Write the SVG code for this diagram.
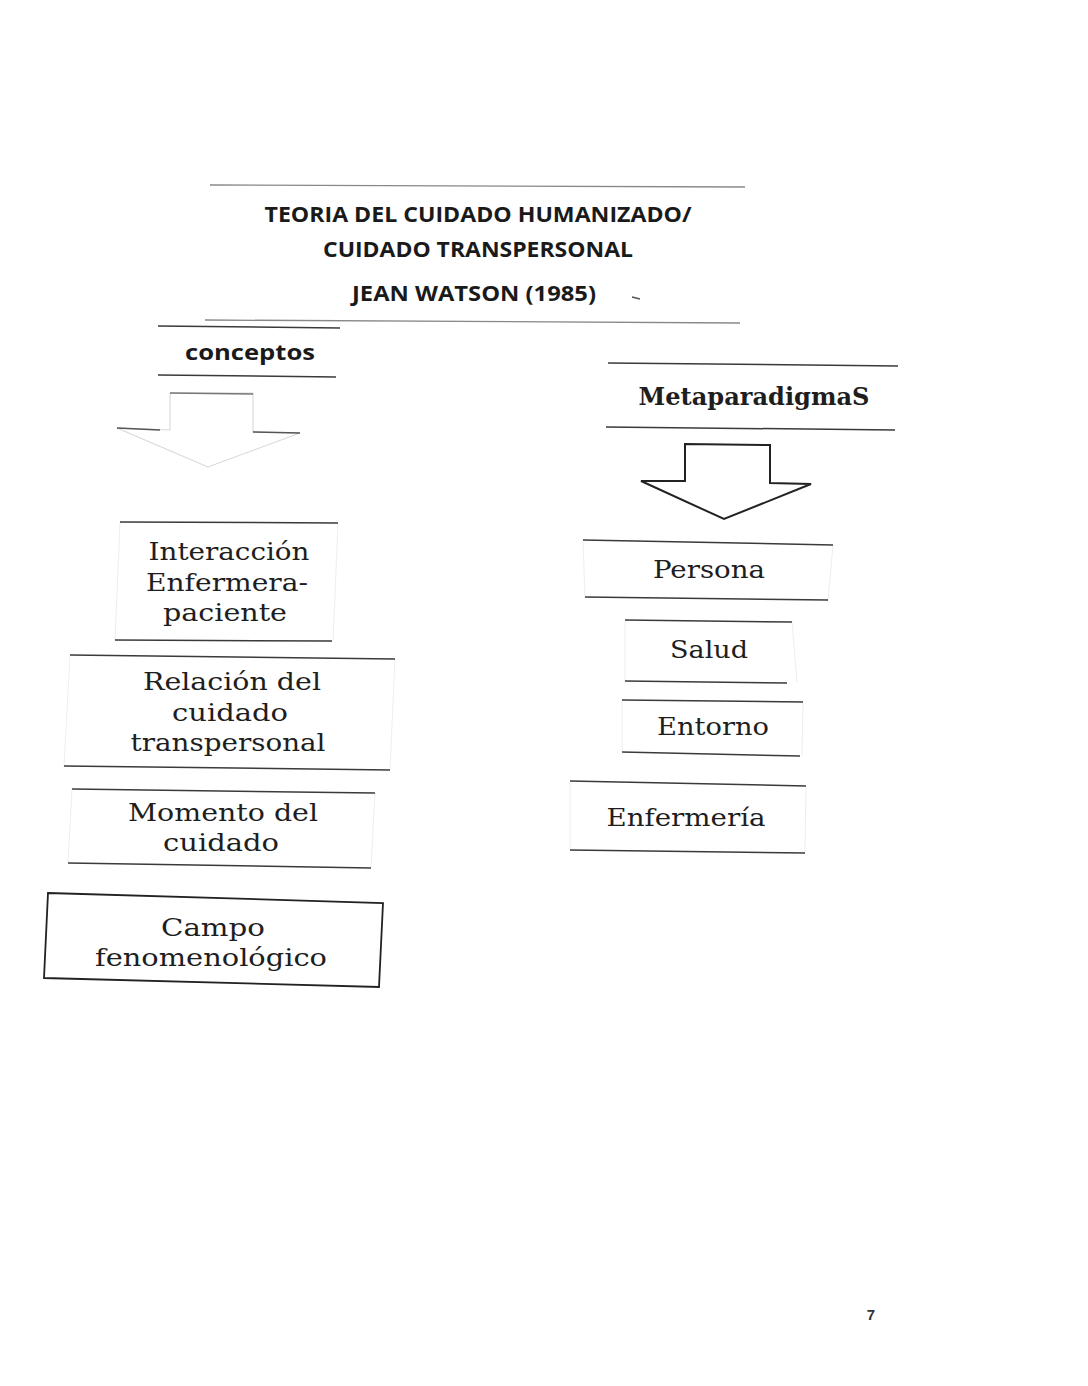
<svg xmlns="http://www.w3.org/2000/svg" width="1088" height="1386" viewBox="0 0 1088 1386">
<style>
.ln{stroke:#3a3a3a;stroke-width:1.5;fill:none}
.lt{stroke:#888;stroke-width:1.3;fill:none}
.side{stroke:#eeeeee;stroke-width:1;fill:none}
.hd{font-family:"Open Sans","Liberation Sans",sans-serif;font-weight:bold;fill:#1a1a1a;text-anchor:middle}
.bx{font-family:"DejaVu Serif","Liberation Serif",serif;fill:#1e1e1e;text-anchor:middle;font-size:25px}
</style>
<rect width="1088" height="1386" fill="#fff"/>
<g id="title">
<line class="lt" x1="210" y1="185" x2="745" y2="187"/>
<line class="lt" x1="205" y1="320" x2="740" y2="323"/>
<text class="hd" x="478" y="222" font-size="21" textLength="427" lengthAdjust="spacingAndGlyphs">TEORIA DEL CUIDADO HUMANIZADO/</text>
<text class="hd" x="478" y="257" font-size="21" textLength="310" lengthAdjust="spacingAndGlyphs">CUIDADO TRANSPERSONAL</text>
<text class="hd" x="474" y="301" font-size="21" textLength="244" lengthAdjust="spacingAndGlyphs">JEAN WATSON (1985)</text>
<line x1="632" y1="297" x2="640" y2="299" stroke="#555" stroke-width="1.5"/>
</g>
<g id="conceptos">
<line class="ln" x1="158" y1="326" x2="340" y2="328"/>
<line class="ln" x1="158" y1="375" x2="336" y2="377"/>
<text class="hd" x="250" y="360" font-size="22" textLength="130" lengthAdjust="spacingAndGlyphs">conceptos</text>
</g>
<g id="metaparadigmas">
<line class="ln" x1="608" y1="363" x2="898" y2="366" stroke="#555"/>
<line class="ln" x1="606" y1="427" x2="895" y2="430" stroke="#555"/>
<text class="bx" x="754" y="405" font-weight="bold" textLength="231" lengthAdjust="spacingAndGlyphs">MetaparadigmaS</text>
</g>
<g id="connectors">
<polygon points="170,393 253,393 253,432 300,433 208,467 117,428 170,430" fill="none" stroke="#d8d8d8" stroke-width="1.1"/>
<line x1="170" y1="393" x2="253" y2="394" stroke="#777" stroke-width="1.3"/>
<line x1="117" y1="428" x2="160" y2="430" stroke="#555" stroke-width="1.6"/>
<line x1="253" y1="432" x2="300" y2="433" stroke="#555" stroke-width="1.6"/>
<polygon points="685,444 770,445 770,483 811,484 724,519 641,481 685,481" fill="#fff" stroke="#222" stroke-width="2"/>
</g>
<g id="interaccion">
<line class="side" x1="120" y1="522" x2="115" y2="640"/>
<line class="side" x1="338" y1="523" x2="333" y2="641"/>
<line class="ln" x1="120" y1="522" x2="338" y2="523"/>
<line class="ln" x1="115" y1="640" x2="332" y2="641"/>
<text class="bx" x="229" y="560" textLength="161" lengthAdjust="spacingAndGlyphs">Interacción</text>
<text class="bx" x="227" y="591" textLength="162" lengthAdjust="spacingAndGlyphs">Enfermera-</text>
<text class="bx" x="225" y="621" textLength="124" lengthAdjust="spacingAndGlyphs">paciente</text>
</g>
<g id="relacion">
<line class="side" x1="70" y1="655" x2="64" y2="767"/>
<line class="side" x1="395" y1="659" x2="390" y2="770"/>
<line class="ln" x1="70" y1="655" x2="395" y2="659"/>
<line class="ln" x1="64" y1="766" x2="390" y2="770"/>
<text class="bx" x="232" y="690" textLength="178" lengthAdjust="spacingAndGlyphs">Relación del</text>
<text class="bx" x="230" y="721" textLength="116" lengthAdjust="spacingAndGlyphs">cuidado</text>
<text class="bx" x="228" y="751" textLength="195" lengthAdjust="spacingAndGlyphs">transpersonal</text>
</g>
<g id="momento">
<line class="side" x1="72" y1="789" x2="68" y2="863"/>
<line class="side" x1="375" y1="793" x2="371" y2="868"/>
<line class="ln" x1="72" y1="789" x2="375" y2="793"/>
<line class="ln" x1="68" y1="863" x2="371" y2="868"/>
<text class="bx" x="223" y="821" textLength="190" lengthAdjust="spacingAndGlyphs">Momento del</text>
<text class="bx" x="221" y="851" textLength="116" lengthAdjust="spacingAndGlyphs">cuidado</text>
</g>
<g id="campo">
<polygon points="48,893 383,903 379,987 44,978" fill="none" stroke="#222" stroke-width="1.8"/>
<text class="bx" x="213" y="936" textLength="104" lengthAdjust="spacingAndGlyphs">Campo</text>
<text class="bx" x="211" y="966" textLength="232" lengthAdjust="spacingAndGlyphs">fenomenológico</text>
</g>
<g id="persona">
<line class="side" x1="583" y1="540" x2="585" y2="598"/>
<line class="side" x1="833" y1="545" x2="828" y2="601"/>
<line class="ln" x1="583" y1="540" x2="833" y2="545"/>
<line class="ln" x1="585" y1="597" x2="828" y2="600"/>
<text class="bx" x="709" y="578" textLength="112" lengthAdjust="spacingAndGlyphs">Persona</text>
</g>
<g id="salud">
<line class="side" x1="625" y1="620" x2="625" y2="683"/>
<line class="side" x1="792" y1="622" x2="797" y2="682"/>
<line class="ln" x1="625" y1="620" x2="792" y2="622"/>
<line class="ln" x1="625" y1="681" x2="787" y2="683"/>
<text class="bx" x="709" y="658" textLength="78" lengthAdjust="spacingAndGlyphs">Salud</text>
</g>
<g id="entorno">
<line class="side" x1="622" y1="700" x2="622" y2="752"/>
<line class="side" x1="803" y1="702" x2="802" y2="755"/>
<line class="ln" x1="622" y1="700" x2="803" y2="702"/>
<line class="ln" x1="622" y1="752" x2="800" y2="756"/>
<text class="bx" x="713" y="735" textLength="112" lengthAdjust="spacingAndGlyphs">Entorno</text>
</g>
<g id="enfermeria">
<line class="side" x1="570" y1="781" x2="570" y2="850"/>
<line class="side" x1="806" y1="786" x2="805" y2="853"/>
<line class="ln" x1="570" y1="781" x2="806" y2="786"/>
<line class="ln" x1="570" y1="850" x2="805" y2="853"/>
<text class="bx" x="686" y="826" textLength="159" lengthAdjust="spacingAndGlyphs">Enfermería</text>
</g>
<text x="871" y="1320" font-family="Liberation Sans,sans-serif" font-weight="bold" font-size="15" fill="#333" text-anchor="middle">7</text>
</svg>
